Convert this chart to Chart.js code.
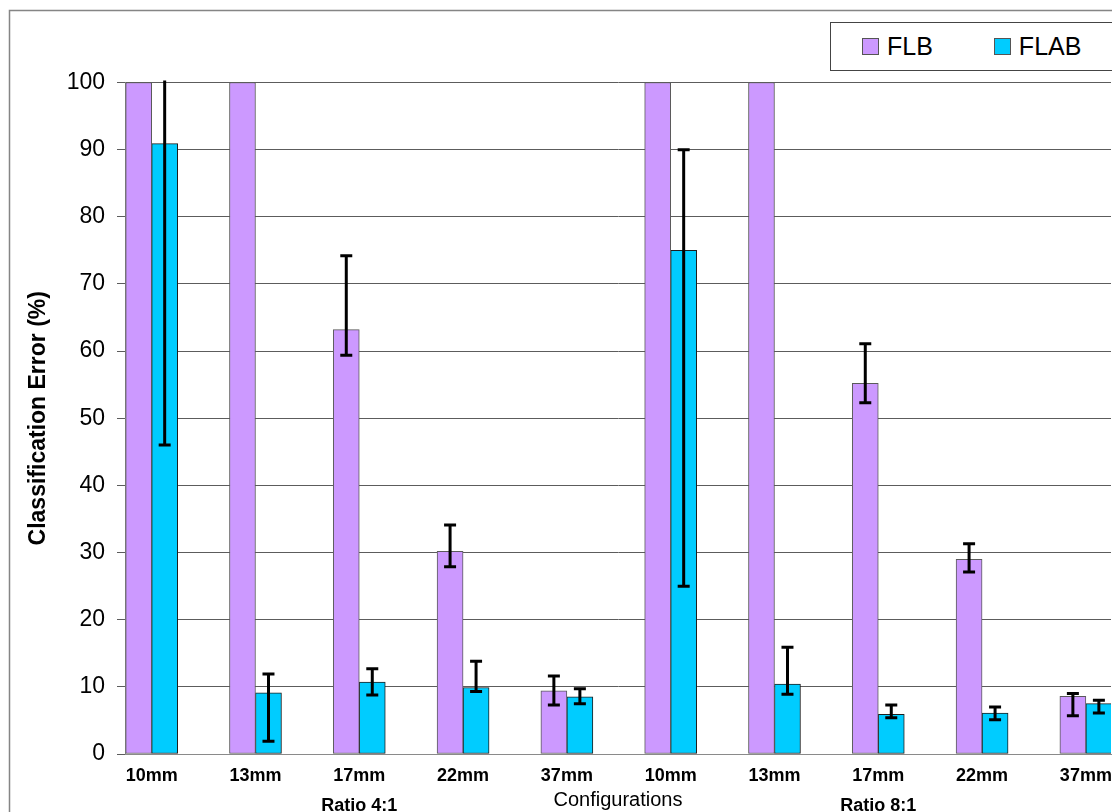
<!DOCTYPE html>
<html>
<head>
<meta charset="utf-8">
<script src="https://cdn.jsdelivr.net/npm/chart.js@4.4.1/dist/chart.umd.min.js"></script>
<style>
  html, body { margin: 0; padding: 0; background: #fff; overflow: hidden; }
  #wrap { position: relative; width: 1112px; height: 812px; }
  #myChart { position: absolute; left: 0; top: 0; }
  #legend {
    position: absolute; left: 830px; top: 22px; width: 320px; height: 49px;
    box-sizing: border-box; border: 1px solid #444; background: #fff;
    display: flex; align-items: center; padding-left: 31px;
    font-family: 'Liberation Sans', Arial, sans-serif; font-size: 25px; color: #000;
  }
  #legend .item { display: flex; align-items: center; }
  #legend .item + .item { margin-left: 61px; }
  #legend .box { width: 17px; height: 17px; box-sizing: border-box; border: 1px solid #555; margin-right: 8px; }
</style>
</head>
<body>
<div id="wrap">
  <canvas id="myChart" width="1112" height="812"></canvas>
  <div id="legend"></div>
</div>
<script>
// categories along the x axis (two ratio groups of five configurations)
var categories = ['10mm', '13mm', '17mm', '22mm', '37mm', '10mm', '13mm', '17mm', '22mm', '37mm'];
var groupLabels = ['Ratio 4:1', 'Ratio 8:1'];
var groupLabelAt = [2, 7];
var yTicks = [0, 10, 20, 30, 40, 50, 60, 70, 80, 90, 100];

// FLB series (10mm / 13mm go off the top of the chart)
var flb = [100, 100, 63.2, 30.2, 9.4, 100, 100, 55.2, 29.0, 8.6];
var flbLow = [null, null, 59.4, 27.9, 7.3, null, null, 52.3, 27.1, 5.7];
var flbHigh = [null, null, 74.2, 34.1, 11.6, null, null, 61.1, 31.3, 9.0];

// FLAB series
var flab = [90.9, 9.1, 10.7, 9.9, 8.5, 75.0, 10.4, 5.9, 6.1, 7.5];
var flabLow = [46.0, 1.9, 8.8, 9.3, 7.5, 25.0, 8.9, 5.4, 5.1, 6.1];
var flabHigh = [135.8, 11.9, 12.7, 13.8, 9.7, 90.0, 15.9, 7.3, 7.0, 8.0];

var FONT = "'Liberation Sans', Arial, sans-serif";

function points(values) {
    return values.map(function (v, i) { return { x: i, y: v }; });
}

// outer frame of the figure
var frame = {
    id: 'frame',
    beforeDraw: function (chart) {
        var ctx = chart.ctx;
        ctx.save();
        ctx.strokeStyle = '#858585';
        ctx.lineWidth = 1.5;
        ctx.strokeRect(9.5, 10.5, 3000, 3000);
        ctx.restore();
    }
};

// error bars, drawn from the y scale
var errorBars = {
    id: 'errorBars',
    afterDatasetsDraw: function (chart) {
        var ctx = chart.ctx;
        var area = chart.chartArea;
        var yScale = chart.scales.y;
        ctx.save();
        ctx.beginPath();
        ctx.rect(area.left, area.top - 2, area.right - area.left, area.bottom - area.top + 2);
        ctx.clip();
        ctx.strokeStyle = '#000';
        ctx.lineWidth = 3;
        chart.data.datasets.forEach(function (ds, i) {
            var meta = chart.getDatasetMeta(i);
            meta.data.forEach(function (bar, j) {
                var lo = ds.errLow[j], hi = ds.errHigh[j];
                if (lo == null || hi == null) return;
                var yl = yScale.getPixelForValue(lo);
                var yh = yScale.getPixelForValue(hi);
                ctx.beginPath();
                ctx.moveTo(bar.x, yl); ctx.lineTo(bar.x, yh);
                ctx.moveTo(bar.x - 6, yl); ctx.lineTo(bar.x + 6, yl);
                ctx.moveTo(bar.x - 6, yh); ctx.lineTo(bar.x + 6, yh);
                ctx.stroke();
            });
        });
        ctx.restore();
    }
};

var data = {
    datasets: [{
        label: 'FLB',
        data: points(flb),
        errLow: flbLow,
        errHigh: flbHigh,
        backgroundColor: '#CC99FF',
        borderColor: '#5a5a5a',
        borderWidth: 1,
        borderSkipped: false,
        barThickness: 26
    }, {
        label: 'FLAB',
        data: points(flab),
        errLow: flabLow,
        errHigh: flabHigh,
        backgroundColor: '#00CCFF',
        borderColor: '#1e1e1e',
        borderWidth: 1,
        borderSkipped: false,
        barThickness: 26
    }]
};

var options = {
    responsive: false,
    animation: false,
    devicePixelRatio: 1,
    layout: { padding: { top: 82.5, left: 0, right: 1, bottom: 0 } },
    plugins: {
        legend: { display: false },
        tooltip: { enabled: false }
    },
    scales: {
        x: {
            type: 'linear',
            offset: false,
            min: -0.257,
            max: 9.242,
            afterBuildTicks: function (scale) {
                scale.ticks = categories.map(function (c, i) { return { value: i }; });
            },
            afterFit: function (scale) {
                scale.height = 58;
                // let the last label run off the edge like the original
                scale.paddingLeft = 0;
                scale.paddingRight = 0;
            },
            grid: { display: false, drawTicks: false, offset: false },
            border: { display: true, color: '#8a8a8a', width: 1 },
            ticks: {
                padding: 7,
                color: '#000',
                autoSkip: false,
                maxRotation: 0,
                font: { family: FONT, size: 18, weight: 'bold', lineHeight: 1.65 },
                callback: function (value) {
                    var i = Math.round(value);
                    var g = groupLabelAt.indexOf(i);
                    if (g >= 0) return [categories[i], groupLabels[g]];
                    return categories[i];
                }
            },
            title: {
                display: true,
                text: 'Configurations',
                color: '#000',
                padding: { top: 0, bottom: 0 },
                font: { family: FONT, size: 20, weight: 'normal', lineHeight: 1.2 }
            }
        },
        y: {
            min: 0,
            max: 100,
            afterBuildTicks: function (scale) {
                scale.ticks = yTicks.map(function (v) { return { value: v }; });
            },
            afterFit: function (scale) { scale.width = 125; },
            grid: { color: '#5c5c5c', lineWidth: 1, tickLength: 8 },
            border: { display: true, color: '#8a8a8a' },
            ticks: {
                padding: 12,
                color: '#000',
                font: { family: FONT, size: 23 }
            },
            title: {
                display: true,
                text: 'Classification Error (%)',
                color: '#000',
                padding: { top: 25, bottom: 0 },
                font: { family: FONT, size: 23, weight: 'bold', lineHeight: 1.2 }
            }
        }
    }
};

var ctx = document.getElementById('myChart').getContext('2d');
var myChart = new Chart(ctx, {
    type: 'bar',
    data: data,
    options: options,
    plugins: [frame, errorBars]
});

// html legend built from the chart's own legend items
var legendItems = Chart.defaults.plugins.legend.labels.generateLabels(myChart);
var legendEl = document.getElementById('legend');
legendItems.forEach(function (item) {
    var el = document.createElement('div');
    el.className = 'item';
    var box = document.createElement('span');
    box.className = 'box';
    box.style.background = item.fillStyle;
    var txt = document.createElement('span');
    txt.textContent = item.text;
    el.appendChild(box);
    el.appendChild(txt);
    legendEl.appendChild(el);
});
</script>
</body>
</html>
